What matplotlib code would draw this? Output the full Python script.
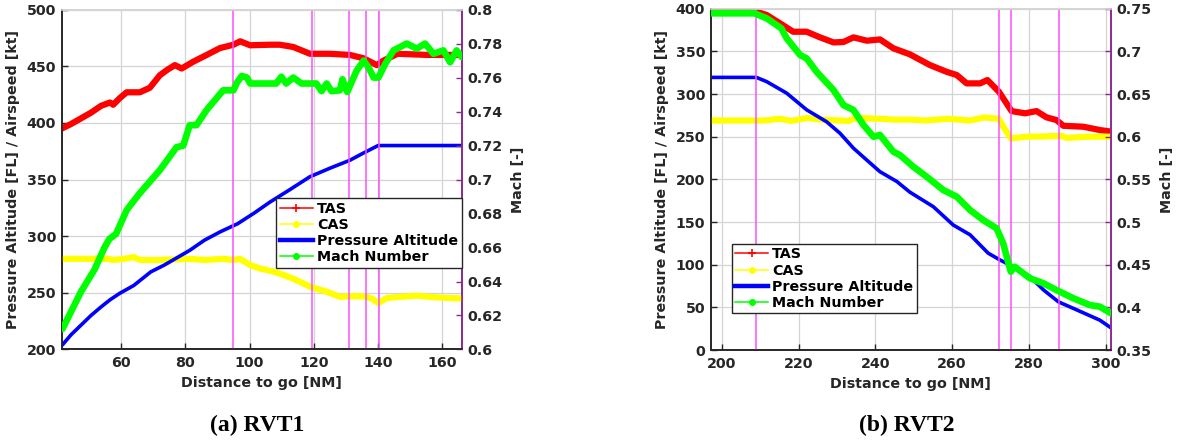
import numpy as np
import matplotlib.pyplot as plt
from matplotlib.lines import Line2D
from matplotlib.ticker import FormatStrFormatter

# ---- (a) RVT1 ----
tas1_x = [41.6, 44.5, 47.6, 50.7, 53.8, 56.6, 57.6, 59.7, 61.8, 65.9, 69.0, 72.1, 74.5, 76.8, 78.9,
          82.5, 86.7, 90.8, 95.0, 97.1, 100.2, 106.4, 109.4, 113.6, 118.8, 125.0, 131.2, 135.5,
          139.6, 141.7, 146.0, 155.3, 166.0]
tas1 = [395, 399, 404, 409, 415, 418, 416, 422, 427, 427, 431, 442, 447, 451, 448,
        454, 460, 466, 469, 472, 468.5, 469, 469, 467, 461, 461, 460, 457,
        451, 455, 461, 460, 460]

cas1_x = [41.6, 50, 56, 57.6, 61, 64, 66, 72, 81.6, 86, 91.8, 95, 97.1, 100.2, 103.2, 106.4, 109.4,
          113.6, 118.8, 124.0, 128.1, 131.5, 135.5, 138, 140.1, 142.7, 147, 152, 158, 166]
cas1 = [280, 280, 280, 279, 280, 281.5, 279, 279, 280, 279, 280, 279, 280, 274.5, 271.5, 269.5, 267,
        262.5, 255.5, 251, 246.5, 247, 247, 245, 241, 245.5, 246.5, 247.5, 246, 245]

alt1_x = [41.8, 44.5, 47.6, 50.7, 53.8, 56.7, 59.6, 64.0, 69.3, 73.5, 81.4, 86.0, 91.0, 96.3, 101.5,
          106.3, 112.5, 118.8, 125.0, 131.2, 135.5, 140.0, 150, 166.0]
alt1 = [204, 213, 221.5, 230, 237.5, 244, 249.5, 256.5, 268.5, 274.5, 287.5, 296.5, 304, 311, 320.5,
        330, 341, 352.5, 360, 367, 373.5, 380, 380, 380]

mach1_x = [41.8, 44.7, 47.6, 51.8, 54.9, 56.4, 58.5, 61.8, 63.4, 65.9, 72.1, 77.3, 79.4, 81.4, 83.5,
           86.7, 91.8, 95.0, 96.1, 97.6, 99.2, 100.2, 106.4, 108.3, 109.9, 111.4, 113.6, 116.2, 120.8,
           122.4, 124.0, 125.5, 128.1, 128.9, 130.4, 133.3, 135.5, 137.0, 138.6, 140.1, 142.2, 144.8,
           148.9, 152.0, 154.6, 157.2, 160.3, 162.4, 164.4, 166.0]
mach1 = [0.612, 0.623, 0.634, 0.647, 0.660, 0.665, 0.668, 0.682, 0.686, 0.692, 0.7055, 0.719, 0.720,
         0.732, 0.732, 0.741, 0.7525, 0.7525, 0.757, 0.761, 0.760, 0.7565, 0.7565, 0.7565, 0.7605,
         0.7565, 0.760, 0.7565, 0.7565, 0.752, 0.7565, 0.752, 0.7525, 0.759, 0.7515, 0.764, 0.770,
         0.766, 0.760, 0.760, 0.768, 0.776, 0.780, 0.777, 0.780, 0.774, 0.776, 0.769, 0.776, 0.772]

vlines1 = [95.0, 119.5, 131.0, 136.3, 140.3]

# ---- (b) RVT2 ----
tas2_x = [197.1, 208.2, 211.7, 215.2, 218.6, 222.1, 225.6, 229.1, 231.7, 234.3, 237.8, 241.2, 244.7,
          249.0, 254.2, 258.6, 261.2, 263.8, 267.3, 269.2, 272.2, 275.5, 279.0, 282.0, 284.6, 287.2,
          289.0, 294.2, 298.5, 301.4]
tas2 = [396.5, 397.7, 392.6, 382.8, 373, 373, 366.4, 360.5, 361, 366.4, 362.5, 364, 353.6,
        346.5, 334, 326, 322.3, 312.5, 312.5, 316.4, 302.7, 280, 277.4, 280, 272.7, 269.5,
        262.8, 261.7, 257.8, 256]

cas2_x = [197.1, 211, 215.2, 218, 222.3, 226, 233, 235, 241.2, 245, 249, 253, 259, 264.7, 268.3,
          270, 272.2, 273.3, 275.3, 279.4, 282.9, 288.5, 290, 295, 301.4]
cas2 = [269, 269, 271, 268.5, 272, 270, 268.5, 272, 271, 270, 270, 269, 271, 269, 272.5,
        272, 271, 262, 248, 250, 250.2, 251, 248.5, 250, 250]

alt2_x = [197.1, 209.0, 211.7, 216.9, 222.1, 227.3, 230.8, 234.3, 237.8, 241.2, 245.6, 249.0, 255.1,
          260.3, 264.7, 269.4, 272.5, 275.1, 280.3, 283.8, 287.7, 292.5, 298.5, 301.4]
alt2 = [319.5, 319.5, 314.5, 301, 281.5, 267.5, 254, 236.5, 222.5, 209, 197.5, 185, 168,
        146.5, 135, 113.5, 105.5, 99.5, 86, 70.5, 56.5, 47, 35, 26]

mach2_x = [197.1, 208.5, 211.7, 215.5, 216.9, 220.4, 222.1, 224.7, 229.1, 231.7, 234.3, 236.9, 239.5,
           241.2, 244.7, 246.4, 249.9, 253.4, 257.7, 261.2, 264.7, 268.1, 271.6, 273.3, 275.3, 276.3,
           280.3, 283.8, 287.2, 291.6, 295.9, 298.5, 301.4]
mach2 = [0.7446, 0.7446, 0.7387, 0.727, 0.7153, 0.6957, 0.6918, 0.676, 0.6547, 0.637, 0.6313, 0.6137,
         0.600, 0.602, 0.5824, 0.5785, 0.5648, 0.553, 0.5375, 0.5297, 0.514, 0.5023, 0.4926, 0.475,
         0.4418, 0.4476, 0.434, 0.4282, 0.4203, 0.4106, 0.4027, 0.4008, 0.393]

vlines2 = [208.9, 272.3, 275.4, 287.8, 301.3]

labels = ["TAS", "CAS", "Pressure Altitude", "Mach Number"]
captions = ["(a) RVT1", "(b) RVT2"]

TXT = '#262626'
RED, YEL, BLU, GRN = '#ff0000', '#ffff00', '#0000ff', '#00ff00'
MAG = '#ff4dff'

plt.rcParams['font.family'] = 'DejaVu Sans'
plt.rcParams['font.weight'] = 'bold'
plt.rcParams['font.size'] = 10.3

fig = plt.figure(figsize=(11.8, 4.42), dpi=100)

panels = [
    dict(pos=[0.0523, 0.2093, 0.339, 0.769], xlim=(41.6, 166.0), xticks=np.arange(60, 161, 20),
         ylim=(200, 500), yticks=np.arange(200, 501, 50), y2lim=(0.6, 0.8), y2ticks=np.arange(0.6, 0.801, 0.02),
         tas=(tas1_x, tas1), cas=(cas1_x, cas1), alt=(alt1_x, alt1), mach=(mach1_x, mach1), vl=vlines1,
         leg=dict(loc='upper right', bbox_to_anchor=(1.0, 0.445)), cap_x=0.2178),
    dict(pos=[0.6023, 0.2081, 0.3392, 0.7722], xlim=(197.1, 301.4), xticks=np.arange(200, 301, 20),
         ylim=(0, 400), yticks=np.arange(0, 401, 50), y2lim=(0.35, 0.75), y2ticks=np.arange(0.35, 0.751, 0.05),
         tas=(tas2_x, tas2), cas=(cas2_x, cas2), alt=(alt2_x, alt2), mach=(mach2_x, mach2), vl=vlines2,
         leg=dict(loc='lower left', bbox_to_anchor=(0.052, 0.107)), cap_x=0.7686),
]

for i, p in enumerate(panels):
    ax = fig.add_axes(p['pos'])
    ax2 = ax.twinx()

    ax.plot(*p['tas'], color=RED, lw=4.5, solid_joinstyle='round', solid_capstyle='round', zorder=3)
    ax.plot(*p['cas'], color=YEL, lw=4.5, solid_joinstyle='round', solid_capstyle='round', zorder=3)
    ax.plot(*p['alt'], color=BLU, lw=2.6, solid_joinstyle='round', solid_capstyle='round', zorder=3)
    for v in p['vl']:
        ax.axvline(v, color=MAG, lw=1.1, zorder=4)
    ax2.plot(*p['mach'], color=GRN, lw=4.8, solid_joinstyle='round', solid_capstyle='round', zorder=3)

    ax.set_xlim(*p['xlim'])
    ax.set_ylim(*p['ylim'])
    ax2.set_ylim(*p['y2lim'])
    ax.set_xticks(p['xticks'])
    ax.set_yticks(p['yticks'])
    ax2.set_yticks(p['y2ticks'])
    ax2.yaxis.set_major_formatter(FormatStrFormatter('%g'))

    ax.grid(True, color='#d4d4d4', lw=0.9)
    ax.set_axisbelow(True)
    ax.tick_params(direction='in', length=4, width=1, colors=TXT, labelsize=10.3, pad=4)
    ax.tick_params(axis='x', pad=5)
    ax2.tick_params(direction='in', length=4, width=1, colors=TXT, labelsize=10.3, pad=4)
    ax2.tick_params(axis='y', color='#8a2a8e')

    for a in (ax, ax2):
        a.spines['top'].set_color('#d4d4d4')
        a.spines['left'].set_color(TXT)
        a.spines['bottom'].set_color(TXT)
        a.spines['right'].set_color('#8a2a8e')
        for s in a.spines.values():
            s.set_linewidth(1.2)

    ax.set_xlabel("Distance to go [NM]", color=TXT, fontweight='bold')
    ax.xaxis.set_label_coords(0.5, -0.078)
    ax.set_ylabel("Pressure Altitude [FL] / Airspeed [kt]", color=TXT, fontweight='bold')
    ax.yaxis.set_label_coords(-0.104, 0.5)
    ax2.set_ylabel("Mach [-]", color=TXT, fontweight='bold')
    ax2.yaxis.set_label_coords(1.122, 0.5)

    handles = [
        Line2D([], [], color=RED, lw=1.1, marker='+', ms=6, mew=1.2),
        Line2D([], [], color=YEL, lw=1.1, marker='.', ms=8),
        Line2D([], [], color=BLU, lw=3.2),
        Line2D([], [], color=GRN, lw=1.1, marker='.', ms=8),
    ]
    leg = ax2.legend(handles, labels, fancybox=False, framealpha=1, edgecolor=TXT,
                     prop=dict(weight='bold', size=10.3), handlelength=2.3, handletextpad=0.3,
                     labelspacing=0.15, borderpad=0.25, borderaxespad=0, **p['leg'])
    leg.get_frame().set_linewidth(1.0)
    leg.set_zorder(10)

    fig.text(p['cap_x'], 0.038, captions[i], ha='center', va='center',
             family='Liberation Serif', fontweight='bold', fontsize=17, color='black')

fig.savefig('out.png', dpi=100, facecolor='w')
